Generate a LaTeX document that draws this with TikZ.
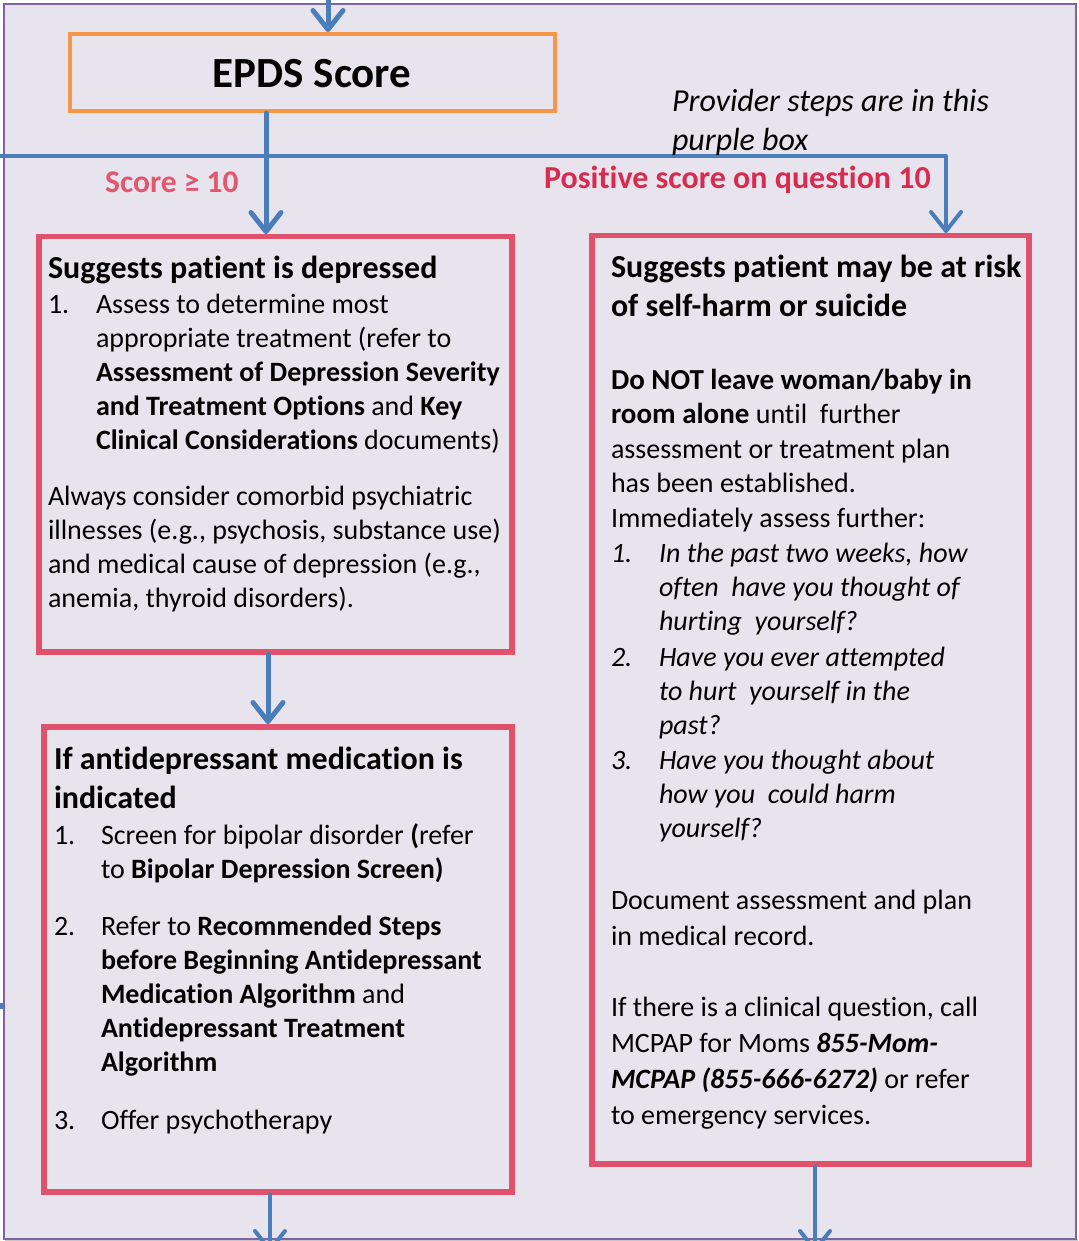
\documentclass[tikz,border=0pt]{standalone}
\usepackage{fontspec}
\setmainfont[Ligatures=NoCommon]{Carlito}
\usetikzlibrary{arrows.meta}
\definecolor{bgpurple}{HTML}{E8E4EE}
\definecolor{edgepurple}{HTML}{8064A2}
\definecolor{orangeedge}{HTML}{F79646}
\definecolor{rededge}{HTML}{E0526C}
\definecolor{flowblue}{HTML}{4A7EBB}
\definecolor{scorered}{HTML}{E2566F}
\definecolor{posred}{HTML}{D92B4F}
\newcommand\bodyf{\fontsize{28}{34.2}\selectfont}
\newcommand\headf{\fontsize{32}{39}\selectfont}
\tikzset{
  redbox/.style={draw=rededge, line width=5.5pt, fill=none, inner sep=0pt, anchor=north west},
  epdsbox/.style={draw=orangeedge, line width=4pt, fill=white, inner sep=0pt, anchor=north west},
  txt/.style={inner sep=0pt, outer sep=0pt, anchor=north west, align=left, font=\bodyf},
  hd/.style={inner sep=0pt, outer sep=0pt, anchor=north west, align=left, font=\headf\bfseries},
  flow/.style={draw=flowblue, line width=5pt, line cap=round},
  flowarrow/.style={flow, -{Straight Barb[length=19pt,width=30pt,line cap=round,line join=round]}},
}
\begin{document}
\begin{tikzpicture}[x=1pt,y=-1pt]
\useasboundingbox (0,0) rectangle (1078,1241);
% outer purple frame
\fill[black!22] (5,1239) rectangle (1078,1241);
\node[draw=edgepurple, line width=2pt, fill=bgpurple, inner sep=0pt, anchor=north west,
      minimum width=1072pt, minimum height=1235pt] (frame) at (3,3) {};

% EPDS box
\node[epdsbox, minimum width=485pt, minimum height=77pt, fill=none] (epds) at (68,32) {};
\node[inner sep=0pt, font=\fontsize{43}{50}\selectfont\bfseries] (epdst) at (312,74) {EPDS Score};

% red boxes
\node[redbox, minimum width=473pt, minimum height=415pt] (b1) at (36,234) {};
\node[redbox, minimum width=468pt, minimum height=465pt] (b2) at (41,724) {};
\node[redbox, minimum width=437pt, minimum height=928pt] (b3) at (589,233) {};

% coordinates for connector free ends
\coordinate (topin) at (328,-4);
\coordinate (leftin) at (0,156);
\coordinate (corner) at (946,156);
\coordinate (out1) at (270,1252);
\coordinate (out2) at (815,1252);
\coordinate (stubL) at (-2,1006);
\coordinate (stubR) at (4,1006);

% connectors
\draw[flowarrow] (topin) -- (topin |- epds.north);
\draw[flow, line width=4pt, line cap=butt] (leftin) -- (corner);
\draw[flowarrow, line width=4pt] (corner) -- (corner |- b3.north);
\draw[flowarrow] (epds.south -| 266,0) -- (b1.north -| 266,0);
\draw[flowarrow] (b1.south -| 268,0) -- (b2.north -| 268,0);
\draw[flowarrow, line width=4pt] (b2.south -| 270,0) -- (out1);
\draw[flowarrow, line width=4pt] (b3.south -| 815,0) -- (out2);
\draw[flow, line width=6pt, line cap=butt] (stubL) -- (stubR);

% labels
\node[inner sep=0pt, anchor=base west, text=scorered, font=\fontsize{31.5}{36}\selectfont\bfseries] (lscore) at (105,193) {Score ≥ 10};
\node[inner sep=0pt, anchor=base west, text=posred, font=\fontsize{32}{36}\selectfont\bfseries] (lpos) at (544,189) {Positive score on question 10};
\node[txt, font=\fontsize{32}{38.5}\selectfont\itshape] (prov) at (672,{112-0.7*38.5}) {\strut Provider steps are in this\\purple box};

% box 1 text
\node[hd] (h1) at (48,{278-0.7*39}) {\strut Suggests patient is depressed};
\node[txt] (n11) at (48,{313-0.7*34.2}) {\strut 1.};
\node[txt] (t11) at (96,{313-0.7*34.2}) {\strut Assess to determine most\\
appropriate treatment (refer to\\
\textbf{Assessment of Depression Severity}\\
\textbf{and Treatment Options} and \textbf{Key}\\
\textbf{Clinical Considerations} documents)};
\node[txt] (p1) at (48,{505-0.7*34.2}) {\strut Always consider comorbid psychiatric\\
illnesses (e.g., psychosis, substance use)\\
and medical cause of depression (e.g.,\\
anemia, thyroid disorders).};

% box 2 text
\node[hd] (h2) at (54,{769-0.7*39}) {\strut If antidepressant medication is\\indicated};
\node[txt] (n21) at (54,{844-0.7*34.2}) {\strut 1.};
\node[txt] (t21) at (101,{844-0.7*34.2}) {\strut Screen for bipolar disorder \textbf{(}refer\\
to \textbf{Bipolar Depression Screen)}};
\node[txt] (n22) at (54,{935-0.7*34.2}) {\strut 2.};
\node[txt] (t22) at (101,{935-0.7*34.2}) {\strut Refer to \textbf{Recommended Steps}\\
\textbf{before Beginning Antidepressant}\\
\textbf{Medication Algorithm} and\\
\textbf{Antidepressant Treatment}\\
\textbf{Algorithm}};
\node[txt] (n23) at (54,{1129-0.7*34.2}) {\strut 3.};
\node[txt] (t23) at (101,{1129-0.7*34.2}) {\strut Offer psychotherapy};

% right box text
\node[hd] (h3) at (611,{277-0.7*39}) {\strut Suggests patient may be at risk\\of self-harm or suicide};
\node[txt, font=\fontsize{28}{34.6}\selectfont] (p3) at (611,{389-0.7*34.6}) {\strut {\fontsize{29}{34.6}\selectfont\bfseries Do NOT leave woman/baby in}\\
{\fontsize{29}{34.6}\selectfont\bfseries room alone} until\ \ further\\
assessment or treatment plan\\
has been established.\\
Immediately assess further:};
\node[txt, font=\bodyf\itshape] (n31) at (611,{562-0.7*34.2}) {\strut 1.};
\node[txt, font=\bodyf\itshape] (t31) at (659,{562-0.7*34.2}) {\strut In the past two weeks, how\\
often\ \ have you thought of\\
hurting\ \ yourself?};
\node[txt, font=\bodyf\itshape] (n32) at (611,{666-0.7*34.2}) {\strut 2.};
\node[txt, font=\bodyf\itshape] (t32) at (659,{666-0.7*34.2}) {\strut Have you ever attempted\\
to hurt\ \ yourself in the\\
past?};
\node[txt, font=\bodyf\itshape] (n33) at (611,{769-0.7*34.2}) {\strut 3.};
\node[txt, font=\bodyf\itshape] (t33) at (659,{769-0.7*34.2}) {\strut Have you thought about\\
how you\ \ could harm\\
yourself?};
\node[txt, font=\fontsize{28}{36}\selectfont] (p4) at (611,{909-0.7*36}) {\strut Document assessment and plan\\
in medical record.};
\node[txt, font=\fontsize{28}{36}\selectfont] (p5) at (611,{1016-0.7*36}) {\strut If there is a clinical question, call\\
MCPAP for Moms \textbf{\textit{855-Mom-}}\\
\textbf{\textit{MCPAP (855-666-6272)}} or refer\\
to emergency services.};
\end{tikzpicture}
\end{document}
